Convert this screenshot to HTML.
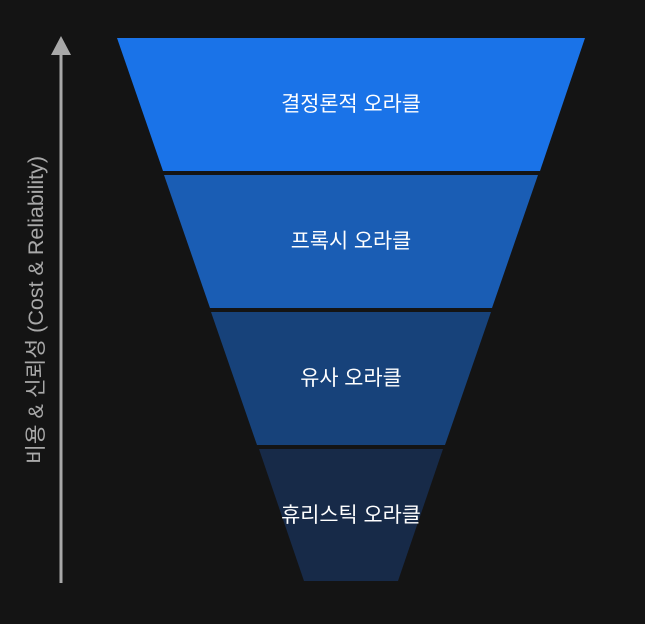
<!DOCTYPE html>
<html><head><meta charset="utf-8"><style>
html,body{margin:0;padding:0;background:#141414;}
svg{display:block;}
text{font-family:"Liberation Sans","Noto Sans CJK KR",sans-serif;}
</style></head><body>
<svg width="645" height="624" viewBox="0 0 645 624" xmlns="http://www.w3.org/2000/svg">
<rect width="645" height="624" fill="#141414"/>
<polygon points="117,38 585,38 540,171 163,171" fill="#1a73e8"/>
<polygon points="164,175 538,175 492,308 210,308" fill="#1a5db4"/>
<polygon points="211,312 491,312 445,445 257,445" fill="#17427a"/>
<polygon points="259,449 443,449 398,581 304,581" fill="#172a48"/>
<g fill="#ffffff" font-size="20.8" text-anchor="middle">
<text x="351" y="111">결정론적 오라클</text>
<text x="351" y="248">프록시 오라클</text>
<text x="351" y="385">유사 오라클</text>
<text x="351" y="522">휴리스틱 오라클</text>
</g>
<line x1="61" y1="583" x2="61" y2="54" stroke="#a8a8a8" stroke-width="3"/>
<polygon points="51,55 71,55 61,36" fill="#a8a8a8"/>
<text transform="translate(43,310) rotate(-90)" fill="#a8a8a8" font-size="21.5" text-anchor="middle">비용 &amp; 신뢰성 (Cost &amp; Reliability)</text>
</svg>
</body></html>
